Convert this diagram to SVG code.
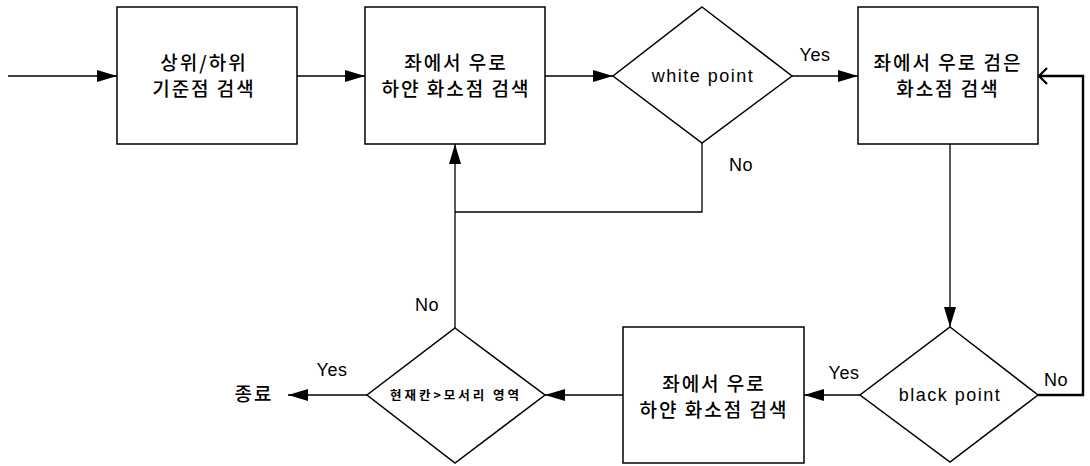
<svg xmlns="http://www.w3.org/2000/svg" width="1090" height="466" viewBox="0 0 1090 466">
<style>
.box{fill:#fff;stroke:#000;stroke-width:1.5}
.ln{fill:none;stroke:#000;stroke-width:1.3}
.kr{font-family:"Noto Sans CJK KR","Noto Sans",sans-serif;font-size:19px;font-weight:500;letter-spacing:2px;text-anchor:middle;fill:#000}
.en{font-family:"Liberation Sans",Arial,sans-serif;font-size:18px;letter-spacing:1.5px;text-anchor:middle;fill:#000}
.lb{font-family:"Liberation Sans",Arial,sans-serif;font-size:18px;letter-spacing:0.5px;text-anchor:middle;fill:#000}
.sm{font-family:"Noto Sans CJK KR","Noto Sans",sans-serif;font-size:12.5px;font-weight:bold;letter-spacing:3px;text-anchor:middle;fill:#000}
</style>
<defs>
<marker id="ah" viewBox="0 0 20 12" markerWidth="20" markerHeight="12" refX="20" refY="6" orient="auto" markerUnits="userSpaceOnUse">
<path d="M0,0 L20,6 L0,12 z" fill="#000"/>
</marker>
<marker id="oh" viewBox="0 0 10 18" markerWidth="10" markerHeight="18" refX="9" refY="9" orient="auto" markerUnits="userSpaceOnUse">
<path d="M1,1 L9,9 L1,17" fill="none" stroke="#000" stroke-width="2.2"/>
</marker>
</defs>
<g id="connectors">
<line class="ln" x1="8" y1="76" x2="117" y2="76" marker-end="url(#ah)"/>
<line class="ln" x1="297" y1="76" x2="365" y2="76" marker-end="url(#ah)"/>
<line class="ln" x1="545" y1="76" x2="613" y2="76" marker-end="url(#ah)"/>
<line class="ln" x1="792" y1="76" x2="858" y2="76" marker-end="url(#ah)"/>
<line class="ln" x1="950" y1="144" x2="950" y2="327" marker-end="url(#ah)"/>
<polyline fill="none" stroke="#000" stroke-width="2.4" points="1038,395 1083,395 1083,76 1039,76" marker-end="url(#oh)"/>
<line class="ln" x1="860" y1="395" x2="804" y2="395" marker-end="url(#ah)"/>
<line class="ln" x1="623" y1="395" x2="545" y2="395" marker-end="url(#ah)"/>
<line class="ln" x1="367" y1="395" x2="288" y2="395" marker-end="url(#ah)"/>
<line class="ln" x1="455" y1="328" x2="455" y2="144" marker-end="url(#ah)"/>
<polyline class="ln" points="702,143 702,212 455,212"/>
<text class="lb" x="815" y="61">Yes</text>
<text class="lb" x="741" y="171">No</text>
<text class="lb" x="1056" y="386">No</text>
<text class="lb" x="844" y="379">Yes</text>
<text class="lb" x="427" y="311">No</text>
<text class="lb" x="332" y="376">Yes</text>
</g>
<g id="n1"><rect class="box" x="117" y="7" width="180" height="137"/>
<text class="kr" x="204" y="70">상위/하위</text><text class="kr" x="204" y="96">기준점 검색</text></g>
<g id="n2"><rect class="box" x="365" y="7" width="180" height="137"/>
<text class="kr" x="456" y="70">좌에서 우로</text><text class="kr" x="456" y="96">하얀 화소점 검색</text></g>
<g id="n3"><polygon class="box" points="702,7 792,76 702,143 613,76"/>
<text class="en" x="703" y="82">white point</text></g>
<g id="n4"><rect class="box" x="858" y="7" width="180" height="137"/>
<text class="kr" x="948" y="70">좌에서 우로 검은</text><text class="kr" x="948" y="96">화소점 검색</text></g>
<g id="n5"><polygon class="box" points="950,327 1038,395 950,462 860,395"/>
<text class="en" x="950" y="401">black point</text></g>
<g id="n6"><rect class="box" x="623" y="327" width="181" height="136"/>
<text class="kr" x="714" y="391">좌에서 우로</text><text class="kr" x="714" y="417">하얀 화소점 검색</text></g>
<g id="n7"><polygon class="box" points="455,328 545,395 455,463 367,395"/>
<text class="sm" x="456" y="400">현재칸&gt;모서리 영역</text></g>
<g id="n8"><text class="kr" x="254" y="401">종료</text></g>
</svg>
